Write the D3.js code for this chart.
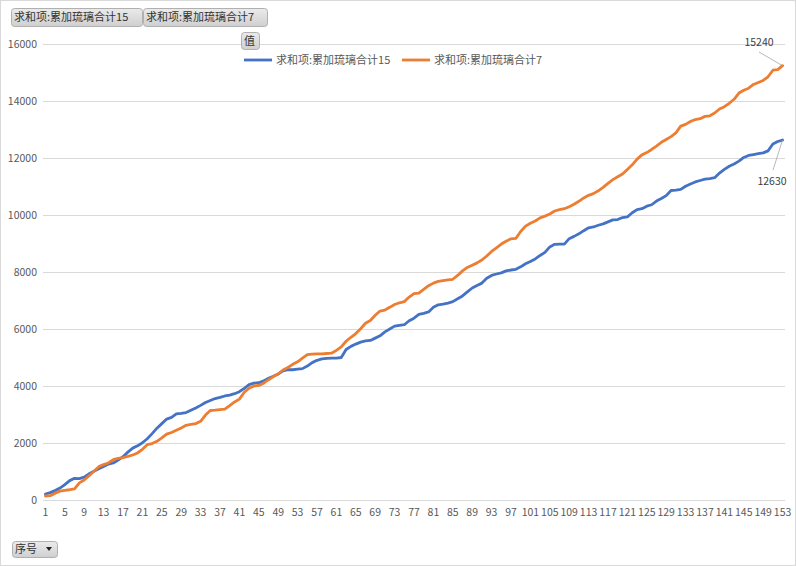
<!DOCTYPE html>
<html>
<head>
<meta charset="utf-8">
<script src="https://cdn.jsdelivr.net/npm/d3@7"></script>
<style>
  body { margin: 0; background: #fff; }
  text { font-family: "Noto Sans CJK SC", "Noto Sans", sans-serif; }
</style>
</head>
<body>
<div id="chart"></div>
<script>
// category index 1..153
const seqNo = d3.range(1, 154);

const seriesNames = ["求和项:累加琉璃合计15", "求和项:累加琉璃合计7"];

const total15 = [
  210, 260, 330, 420, 540, 680, 760, 750, 800, 920,
  1010, 1100, 1180, 1260, 1300, 1400, 1520, 1680, 1820, 1900,
  2010, 2150, 2330, 2520, 2680, 2840, 2900, 3020, 3040, 3070,
  3150, 3230, 3320, 3420, 3490, 3560, 3600, 3650, 3680, 3730,
  3800, 3920, 4050, 4100, 4115, 4180, 4270, 4340, 4420, 4530,
  4570, 4570, 4590, 4610, 4700, 4820, 4900, 4950, 4970, 4975,
  4980, 5000, 5280, 5390, 5470, 5540, 5580, 5600, 5680, 5760,
  5900, 6000, 6100, 6130, 6150, 6290, 6380, 6510, 6550, 6600,
  6760, 6850, 6875, 6910, 6960, 7060, 7160, 7300, 7440, 7530,
  7610, 7780, 7880, 7930, 7970, 8040, 8070, 8095, 8180, 8290,
  8370, 8460, 8580, 8690, 8880, 8970, 8975, 8980, 9170, 9250,
  9340, 9450, 9550, 9580, 9640, 9690, 9760, 9830, 9840, 9910,
  9935, 10080, 10190, 10220, 10310, 10360, 10490, 10580, 10680, 10860,
  10870, 10900, 11010, 11090, 11160, 11210, 11260, 11280, 11310, 11470,
  11600, 11710, 11790, 11890, 12020, 12090, 12120, 12150, 12180, 12250,
  12490, 12580, 12630
];

const total7 = [
  140, 150, 240, 310, 340, 360, 390, 600, 700, 850,
  1010, 1170, 1240, 1300, 1420, 1460, 1490, 1530, 1580, 1650,
  1780, 1940, 1980, 2060, 2180, 2310, 2370, 2450, 2530, 2620,
  2650, 2680, 2760, 2980, 3140, 3150, 3170, 3190, 3310, 3440,
  3540, 3780, 3920, 4000, 4020, 4100, 4220, 4330, 4420, 4560,
  4650, 4760, 4850, 4980, 5100, 5120, 5130, 5130, 5140, 5150,
  5250, 5370, 5570, 5710, 5840, 6010, 6200, 6300, 6480, 6630,
  6665, 6760, 6860, 6920, 6960, 7120, 7240, 7260, 7390, 7520,
  7610, 7670, 7700, 7725, 7745, 7880, 8040, 8160, 8240, 8320,
  8420, 8560, 8720, 8850, 8980, 9080, 9165, 9180, 9420, 9610,
  9710, 9790, 9900, 9960, 10035, 10140, 10190, 10220, 10290, 10380,
  10480, 10600, 10690, 10750, 10850, 10970, 11110, 11240, 11340, 11440,
  11600, 11760, 11960, 12110, 12190, 12300, 12420, 12550, 12650, 12750,
  12880, 13120, 13180, 13280, 13350, 13380, 13460, 13480, 13580, 13720,
  13800, 13920, 14060, 14280, 14380, 14450, 14580, 14650, 14720, 14850,
  15080, 15100, 15240
];

const yTicks = [0, 2000, 4000, 6000, 8000, 10000, 12000, 14000, 16000];
const xTicks = seqNo.filter(d => d % 4 === 1);

const W = 796, H = 566;
const colors = ["#4472C4", "#ED7D31"];

const svg = d3.select("#chart").append("svg")
  .attr("width", W).attr("height", H);

// button gradient
const grad = svg.append("defs").append("linearGradient")
  .attr("id", "btn").attr("x1", 0).attr("y1", 0).attr("x2", 0).attr("y2", 1);
grad.append("stop").attr("offset", "0%").attr("stop-color", "#ebebeb");
grad.append("stop").attr("offset", "100%").attr("stop-color", "#cfcfcf");

// outer border
svg.append("rect")
  .attr("x", 0.5).attr("y", 0.5).attr("width", W - 1).attr("height", H - 1)
  .attr("fill", "#fff").attr("stroke", "#d9d9d9");

// scales
const x = d3.scaleBand().domain(seqNo).range([43, 785]);
const y = d3.scaleLinear().domain([0, 16000]).range([500, 44]);
const cx = d => x(d) + x.bandwidth() / 2;

// gridlines
svg.append("g")
  .selectAll("line")
  .data(yTicks)
  .join("line")
  .attr("x1", 43).attr("x2", 785)
  .attr("y1", d => Math.round(y(d)) + 0.5).attr("y2", d => Math.round(y(d)) + 0.5)
  .attr("stroke", "#d9d9d9");

// y axis
const yAxis = svg.append("g")
  .attr("transform", "translate(37,0)")
  .call(d3.axisLeft(y).tickValues(yTicks).tickFormat(d3.format("d")).tickSize(0).tickPadding(0));
yAxis.select(".domain").remove();
yAxis.selectAll("text")
  .attr("fill", "#595959")
  .style("font-size", "10.5px");

// x axis
const xAxis = svg.append("g")
  .attr("transform", "translate(0,509)")
  .call(d3.axisBottom(x).tickValues(xTicks).tickSize(0).tickPadding(0));
xAxis.select(".domain").remove();
xAxis.selectAll("text")
  .attr("fill", "#595959")
  .style("font-size", "10.5px");

// lines
const seriesData = [total15, total7];
const line = d3.line()
  .x((d, i) => cx(seqNo[i]))
  .y(d => y(d));

seriesData.forEach((vals, k) => {
  svg.append("path")
    .datum(vals)
    .attr("fill", "none")
    .attr("stroke", colors[k])
    .attr("stroke-width", 2.8)
    .attr("stroke-linejoin", "round")
    .attr("stroke-linecap", "round")
    .attr("d", line);
});

// data labels on last points
const last = seqNo.length - 1;
const lbl = [
  { v: total7[last], tx: 759, ty: 46, lx: 759, ly: 52 },
  { v: total15[last], tx: 772, ty: 185, lx: 773, ly: 170 }
];
lbl.forEach(d => {
  svg.append("line")
    .attr("x1", d.lx).attr("y1", d.ly)
    .attr("x2", cx(seqNo[last])).attr("y2", y(d.v))
    .attr("stroke", "#a6a6a6").attr("stroke-width", 0.8);
  svg.append("text")
    .attr("x", d.tx).attr("y", d.ty)
    .attr("text-anchor", "middle")
    .attr("fill", "#404040")
    .style("font-size", "10.5px")
    .text(d.v);
});

// legend
const legX = [244, 402];
seriesNames.forEach((name, k) => {
  svg.append("line")
    .attr("x1", legX[k]).attr("x2", legX[k] + 28)
    .attr("y1", 60).attr("y2", 60)
    .attr("stroke", colors[k]).attr("stroke-width", 2.8);
  svg.append("text")
    .attr("x", legX[k] + 32).attr("y", 64)
    .attr("fill", "#595959")
    .style("font-size", "11px")
    .text(name);
});

// pivot field buttons
function button(x0, y0, w, h, label, drop) {
  const g = svg.append("g");
  g.append("rect")
    .attr("x", x0 + 0.5).attr("y", y0 + 0.5).attr("width", w).attr("height", h)
    .attr("rx", 3)
    .attr("fill", "url(#btn)").attr("stroke", "#b0b0b0");
  g.append("text")
    .attr("x", x0 + 3).attr("y", y0 + h / 2 + 4)
    .attr("fill", "#333")
    .style("font-size", "11px")
    .text(label);
  if (drop) {
    g.append("path")
      .attr("d", `M${x0 + w - 11},${y0 + h / 2 - 2}l6,0l-3,4z`)
      .attr("fill", "#222");
  }
}
button(11, 8, 131, 18, seriesNames[0]);
button(143, 8, 124, 18, seriesNames[1]);
button(241, 32, 18, 17, "值");
button(12, 541, 45, 16, "序号", true);
</script>
</body>
</html>
